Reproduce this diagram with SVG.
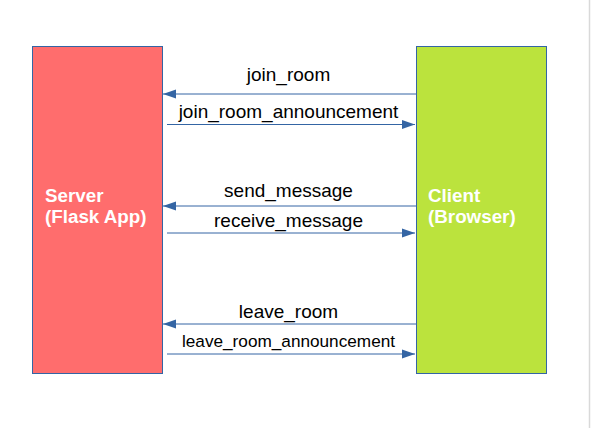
<svg xmlns="http://www.w3.org/2000/svg" width="591" height="428" viewBox="0 0 591 428">
<style>
.node{stroke:#3465a4;stroke-width:1}
.ntext{font-family:"Liberation Sans",Arial,sans-serif;font-weight:bold;font-size:18.8px;fill:#ffffff}
.lbl{font-family:"Liberation Sans",Arial,sans-serif;font-size:19px;fill:#000000;text-anchor:middle}
.conn{stroke:#3465a4;stroke-width:1;fill:none}
</style>
<defs>
<marker id="ah" markerWidth="14" markerHeight="10" refX="13" refY="5" orient="auto" markerUnits="userSpaceOnUse">
<path d="M0,0.5 L13,5 L0,9.5 Z" fill="#3465a4"/>
</marker>
</defs>
<rect width="591" height="428" fill="#ffffff"/>
<line x1="589.5" y1="0" x2="589.5" y2="428" stroke="#d9d9d9" stroke-width="1.5"/>
<g id="server">
<rect class="node" x="32.5" y="46.5" width="130" height="327" fill="#ff6d6d"/>
<text class="ntext" x="45" y="202">Server</text>
<text class="ntext" x="45" y="223">(Flask App)</text>
</g>
<g id="client">
<rect class="node" x="416.5" y="46.5" width="130" height="327" fill="#bbe33d"/>
<text class="ntext" x="428" y="202">Client</text>
<text class="ntext" x="428" y="223">(Browser)</text>
</g>
<g id="connectors">
<line class="conn" x1="416" y1="94" x2="163" y2="94" marker-end="url(#ah)"/>
<line class="conn" x1="167" y1="124.5" x2="415" y2="124.5" marker-end="url(#ah)"/>
<line class="conn" x1="416" y1="206" x2="163" y2="206" marker-end="url(#ah)"/>
<line class="conn" x1="167" y1="233" x2="415" y2="233" marker-end="url(#ah)"/>
<line class="conn" x1="416" y1="324" x2="163" y2="324" marker-end="url(#ah)"/>
<line class="conn" x1="167" y1="354" x2="415" y2="354" marker-end="url(#ah)"/>
<text class="lbl" x="288.5" y="81">join_room</text>
<text class="lbl" x="288.5" y="118">join_room_announcement</text>
<text class="lbl" x="288.5" y="196.5">send_message</text>
<text class="lbl" x="288.5" y="226.5">receive_message</text>
<text class="lbl" x="288.5" y="318">leave_room</text>
<text class="lbl" x="288.5" y="347" style="font-size:17.2px">leave_room_announcement</text>
</g>
</svg>
